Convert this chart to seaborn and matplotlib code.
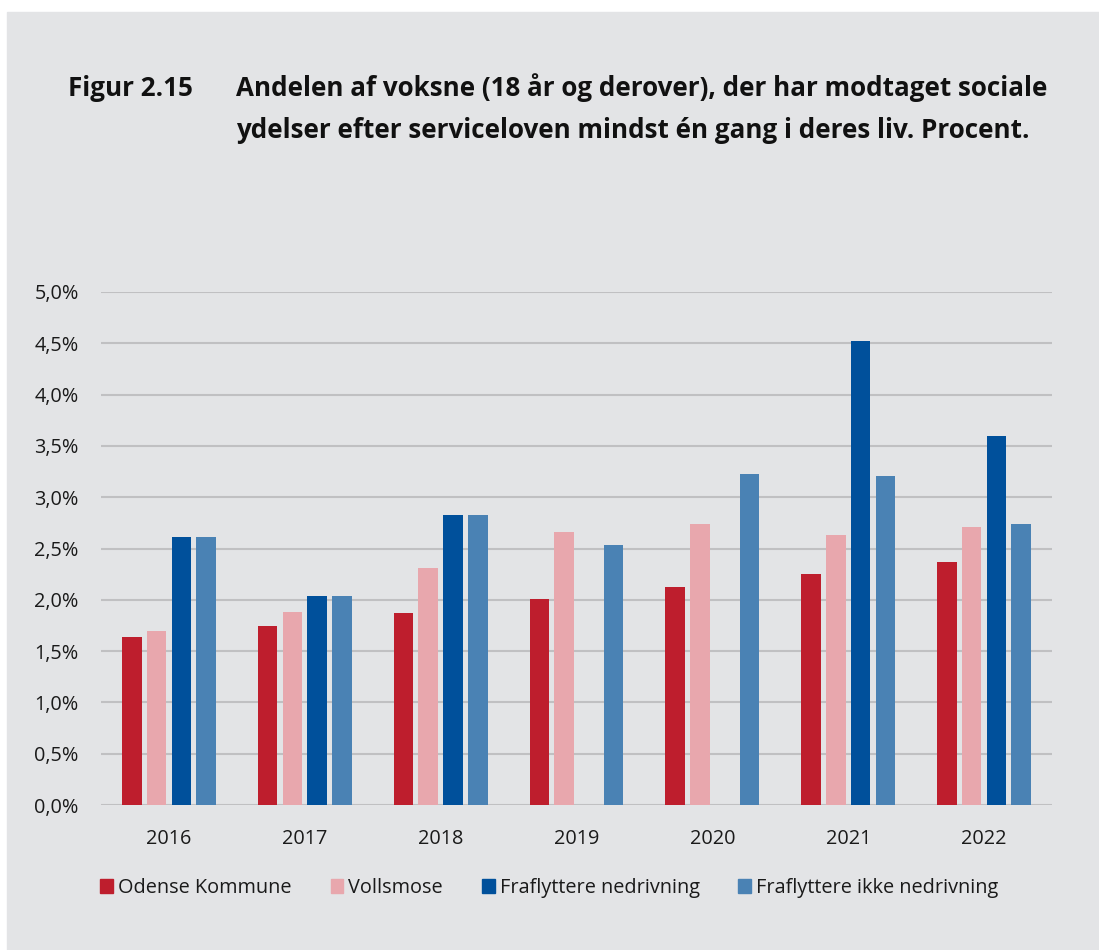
import pandas as pd
import numpy as np
import matplotlib
matplotlib.use("Agg")
import matplotlib.pyplot as plt
import matplotlib.patches as mpatches
from matplotlib.ticker import FuncFormatter, MultipleLocator
import seaborn as sns

# Data (procent)
years = ["2016", "2017", "2018", "2019", "2020", "2021", "2022"]
odense = [1.64, 1.74, 1.87, 2.01, 2.12, 2.25, 2.37]
vollsmose = [1.70, 1.88, 2.31, 2.66, 2.74, 2.63, 2.71]
fraflyt_nedriv = [2.61, 2.04, 2.83, np.nan, np.nan, 4.52, 3.60]
fraflyt_ikke = [2.61, 2.04, 2.83, 2.53, 3.23, 3.21, 2.74]

series = ["Odense Kommune", "Vollsmose", "Fraflyttere nedrivning", "Fraflyttere ikke nedrivning"]
colors = ["#BE1E2D", "#E8A7AD", "#00509B", "#4A82B4"]

df = pd.DataFrame({
    "År": years * 4,
    "Serie": sum([[s] * len(years) for s in series], []),
    "Andel": odense + vollsmose + fraflyt_nedriv + fraflyt_ikke,
})

bg = "#E3E4E6"
txt = "#1a1a1a"
fs = 14.3
sns.set_style("white")
plt.rcParams["font.family"] = ["Open Sans", "DejaVu Sans"]

fig = plt.figure(figsize=(10.99, 9.5), dpi=100, facecolor="white")
# grå baggrundsboks med hvid kant øverst og til venstre
fig.patches.append(mpatches.Rectangle((7 / 1099, 0), 1, 1 - 12 / 950,
                                      transform=fig.transFigure, color=bg, zorder=-10))

ax = fig.add_axes([101 / 1099, 1 - 805 / 950, 951 / 1099, 513 / 950])
ax.set_facecolor(bg)

sns.barplot(data=df, x="År", y="Andel", hue="Serie", hue_order=series,
            palette=colors, saturation=1, width=0.73, gap=0.21, ax=ax, legend=False,
            edgecolor="none", zorder=3)

ax.set_ylim(0, 5.0)
ax.set_xlim(-0.5, 6.5)
ax.yaxis.set_major_locator(MultipleLocator(0.5))
ax.yaxis.set_major_formatter(FuncFormatter(lambda v, p: f"{v:.1f}%".replace(".", ",")))
ax.grid(axis="y", color="#C0C0C2", linewidth=1.5, zorder=0)
ax.set_axisbelow(True)
for s in ax.spines.values():
    s.set_visible(False)
ax.tick_params(axis="y", length=0, pad=16, labelsize=fs, labelcolor=txt)
ax.tick_params(axis="x", length=0, pad=17, labelsize=fs, labelcolor=txt)
ax.set_xlabel("")
ax.set_ylabel("")

# titel
tfs = 18.7
fig.text(68 / 1099, 1 - 88 / 950, "Figur 2.15", fontsize=tfs, fontweight="bold",
         va="center", ha="left", color="#111111")
fig.text(236 / 1099, 1 - 88 / 950,
         "Andelen af voksne (18 år og derover), der har modtaget sociale",
         fontsize=tfs, fontweight="bold", va="center", ha="left", color="#111111")
fig.text(236 / 1099, 1 - 130 / 950,
         "ydelser efter serviceloven mindst én gang i deres liv. Procent.",
         fontsize=tfs, fontweight="bold", va="center", ha="left", color="#111111")

handles = [mpatches.Patch(color=c, label=s) for c, s in zip(colors, series)]
fig.legend(handles=handles, loc="center", bbox_to_anchor=(0.5, 1 - 888 / 950), ncol=4,
           frameon=False, fontsize=fs, handlelength=0.65, handleheight=0.65,
           handletextpad=0.25, columnspacing=1.95, labelcolor=txt)

fig.savefig("out.png", dpi=100, facecolor=fig.get_facecolor())
